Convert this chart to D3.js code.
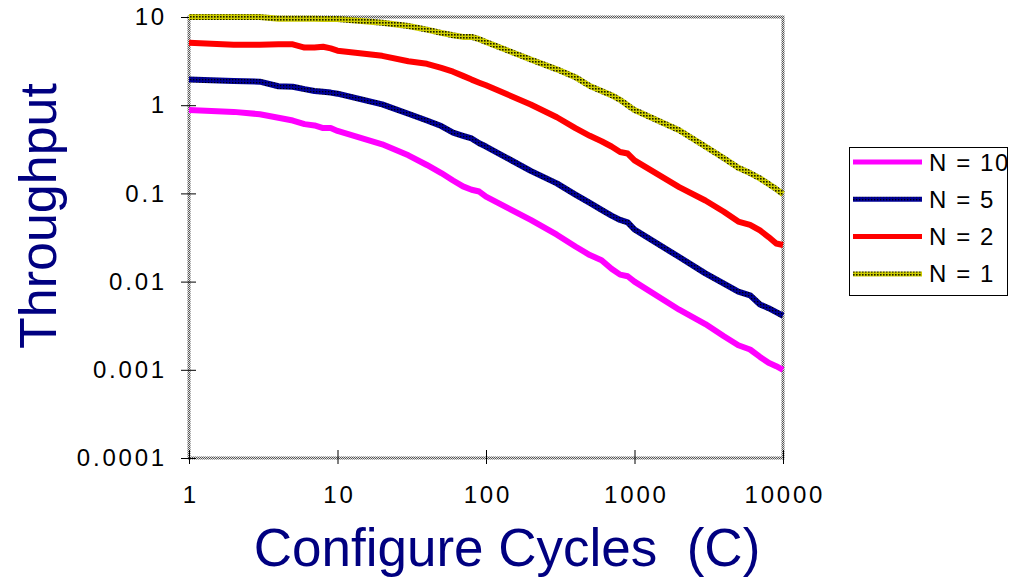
<!DOCTYPE html>
<html>
<head>
<meta charset="utf-8">
<script src="https://cdn.jsdelivr.net/npm/d3@7"></script>
<style>
 body { margin:0; background:#fff; }
 svg { font-family: "Liberation Sans", Arial, sans-serif; }
</style>
</head>
<body>
<div class="chart"></div>
<script>
// configure cycles (x) and throughput per series
var cycles = [1,2,3,4,5,6,7,8,9,
              10,20,30,40,50,60,70,80,90,
              100,200,300,400,500,600,700,800,900,
              1000,2000,3000,4000,5000,6000,7000,8000,9000,10000];

var n10 = [0.88,0.84,0.79,0.72,0.67,0.61,0.59,0.55,0.55,
           0.51,0.36,0.27,0.21,0.17,0.14,0.12,0.11,0.105,
           0.092,0.050,0.034,0.025,0.020,0.0175,0.014,0.012,0.0115,
           0.0100,0.0048,0.0033,0.0024,0.0019,0.0017,0.0014,0.0012,0.0011,0.0010];

var n5 = [1.96,1.88,1.85,1.64,1.62,1.52,1.45,1.42,1.39,
          1.35,1.02,0.80,0.67,0.58,0.49,0.45,0.42,0.37,
          0.34,0.18,0.13,0.097,0.078,0.065,0.056,0.050,0.047,
          0.039,0.019,0.0124,0.0095,0.0077,0.0070,0.0055,0.0050,0.0045,0.0041];

var n2 = [5.1,4.85,4.85,4.9,4.9,4.5,4.5,4.6,4.4,
          4.15,3.63,3.15,2.95,2.65,2.40,2.15,1.95,1.8,
          1.68,1.02,0.73,0.55,0.45,0.39,0.34,0.295,0.283,
          0.237,0.118,0.083,0.062,0.048,0.044,0.038,0.032,0.027,0.026];

var n1 = [10,10,10,9.55,9.55,9.55,9.55,9.5,9.5,
          9.5,8.6,7.9,7.2,6.6,6.2,5.95,5.95,5.6,
          5.2,3.3,2.55,2.08,1.65,1.45,1.3,1.15,1.0,
          0.88,0.52,0.34,0.25,0.195,0.17,0.148,0.128,0.112,0.098];

var seriesNames = ["N = 10","N = 5","N = 2","N = 1"];
var xTicks = [1,10,100,1000,10000];
var yTicks = [0.0001,0.001,0.01,0.1,1,10];
var yTickLabels = ["0.0001","0.001","0.01","0.1","1","10"];

var series = [
  {name: seriesNames[0], values: n10, stroke: "#ff00ff"},
  {name: seriesNames[1], values: n5,  stroke: "url(#navyDots)"},
  {name: seriesNames[2], values: n2,  stroke: "#ff0000"},
  {name: seriesNames[3], values: n1,  stroke: "url(#yellowDots)"}
];

var svg = d3.select(".chart").append("svg")
    .attr("width",1011)
    .attr("height",582);

var defs = svg.append("defs");
function dotPattern(id, bg, dot, size) {
  var p = defs.append("pattern")
      .attr("id",id)
      .attr("patternUnits","userSpaceOnUse")
      .attr("width",3).attr("height",3);
  p.append("rect").attr("width",3).attr("height",3).attr("fill",bg);
  p.append("rect").attr("x",1).attr("y",1).attr("width",size).attr("height",size).attr("fill",dot);
}
dotPattern("navyDots","#000096","#000000",1.3);
dotPattern("yellowDots","#cccc00","#1a1a00",1.6);

var frame = defs.append("pattern")
    .attr("id","frameDots")
    .attr("patternUnits","userSpaceOnUse")
    .attr("width",2).attr("height",2);
frame.append("rect").attr("width",2).attr("height",2).attr("fill","#555");
frame.append("rect").attr("width",1).attr("height",1).attr("fill","#e0e0e0");
frame.append("rect").attr("x",1).attr("y",1).attr("width",1).attr("height",1).attr("fill","#e0e0e0");

var plotL = 189, plotR = 783, plotT = 17, plotB = 458;

var x = d3.scaleLog().domain([1,10000]).range([plotL,plotR]);
var y = d3.scaleLog().domain([0.0001,10]).range([plotB,plotT]);

// plot frame
svg.append("rect")
   .attr("x",plotL).attr("y",plotT)
   .attr("width",plotR-plotL).attr("height",plotB-plotT)
   .attr("fill","none")
   .attr("stroke","url(#frameDots)")
   .attr("stroke-width",3);

// y axis
var yAxis = d3.axisLeft(y)
    .tickValues(yTicks)
    .tickFormat(function(d,i){ return yTickLabels[i]; })
    .tickSizeInner(7).tickSizeOuter(0).tickPadding(15);
var gy = svg.append("g").attr("transform","translate("+plotL+",0)").call(yAxis);
gy.select(".domain").remove();
gy.selectAll(".tick line").attr("x2",7).attr("x1",-8).attr("stroke","#000");
gy.selectAll(".tick text").attr("font-size",24).attr("fill","#000")
  .attr("letter-spacing",2.8)
  .attr("font-family","Liberation Sans, Arial, sans-serif");

// x axis
var xAxis = d3.axisBottom(x)
    .tickValues(xTicks)
    .tickFormat(d3.format("d"))
    .tickSizeInner(6).tickSizeOuter(0).tickPadding(22);
var gx = svg.append("g").attr("transform","translate(0,"+plotB+")").call(xAxis);
gx.select(".domain").remove();
gx.selectAll(".tick line").attr("y1",-8).attr("y2",6).attr("stroke","#000");
gx.selectAll(".tick text").attr("font-size",24).attr("fill","#000")
  .attr("letter-spacing",2.8).attr("dx",1.4)
  .attr("font-family","Liberation Sans, Arial, sans-serif");

// lines
var line = d3.line()
    .x(function(d){ return x(d[0]); })
    .y(function(d){ return y(d[1]); });

series.slice().reverse().forEach(function(s){
  svg.append("path")
     .attr("d", line(cycles.map(function(c,i){ return [c, s.values[i]]; })))
     .attr("fill","none")
     .attr("stroke",s.stroke)
     .attr("stroke-width",6)
     .attr("stroke-linejoin","round");
});

// axis titles
svg.append("text")
   .attr("x",507).attr("y",566)
   .attr("text-anchor","middle")
   .attr("font-size",53)
   .attr("fill","#000080")
   .style("white-space","pre")
   .text("Configure Cycles  (C)");

svg.append("text")
   .attr("transform","translate(56,216) rotate(-90)")
   .attr("text-anchor","middle")
   .attr("font-size",52)
   .attr("fill","#000080")
   .text("Throughput");

// legend
var legend = svg.append("g");
legend.append("rect")
   .attr("x",849.5).attr("y",147.5)
   .attr("width",158).attr("height",148)
   .attr("fill","#fff")
   .attr("stroke","#000")
   .attr("stroke-width",1);

series.forEach(function(s,i){
  var ly = 162 + i*37.3;
  legend.append("line")
     .attr("x1",853).attr("x2",922)
     .attr("y1",ly).attr("y2",ly)
     .attr("stroke",s.stroke)
     .attr("stroke-width",5);
  legend.append("text")
     .attr("x",929).attr("y",ly+8.5)
     .attr("font-size",24)
     .attr("letter-spacing",1.6)
     .attr("fill","#000")
     .text(s.name);
});
</script>
</body>
</html>
